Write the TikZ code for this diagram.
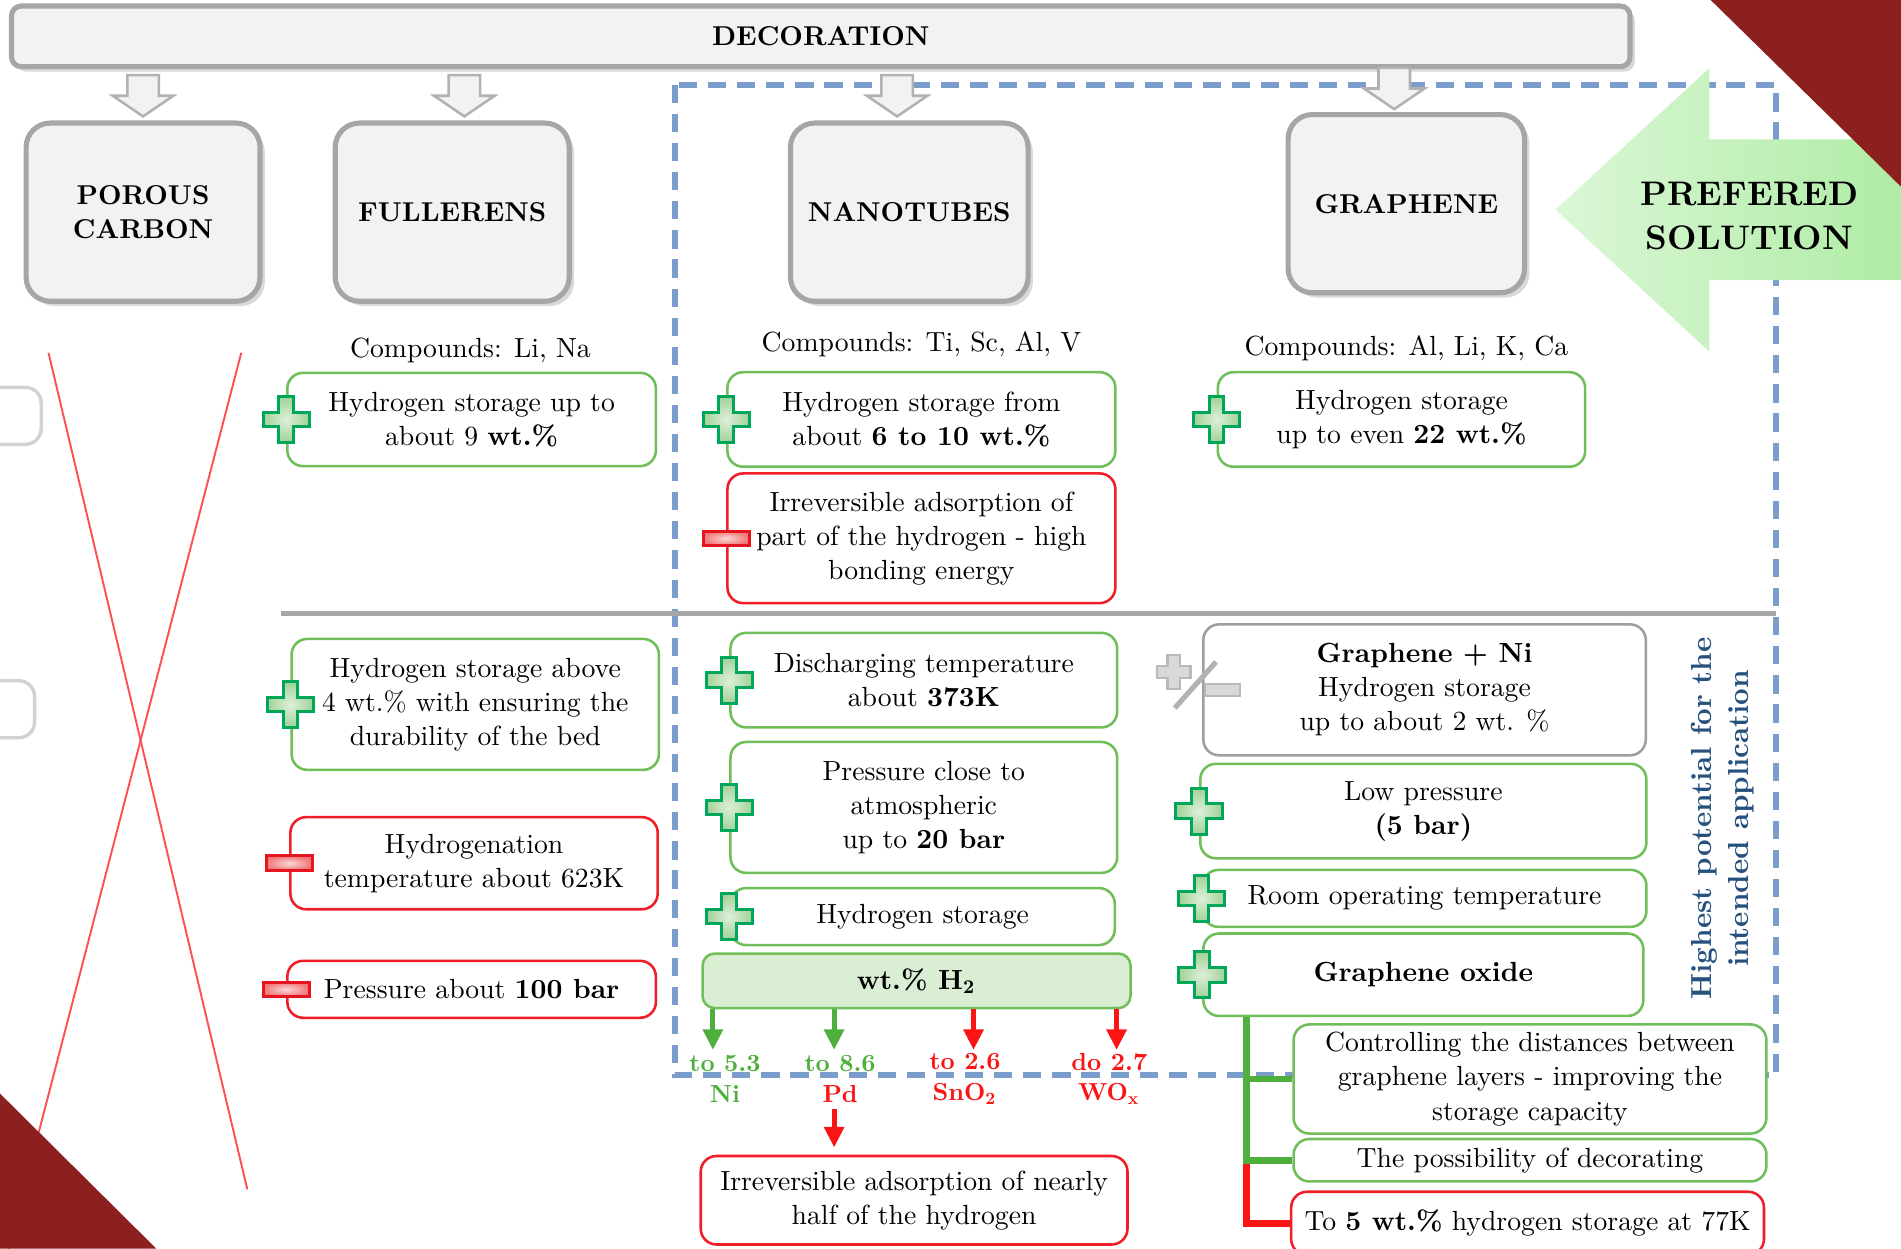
\documentclass[tikz,border=0pt]{standalone}
\usepackage{fontspec}
\setmainfont{lmroman10}[Extension=.otf, UprightFont=*-regular, BoldFont=*-bold,
  ItalicFont=*-italic, BoldItalicFont=*-bolditalic]
\usepackage{tikz}
\usetikzlibrary{arrows.meta,shadows,calc}

\definecolor{boxgreen}{RGB}{112,190,90}
\definecolor{boxred}{RGB}{240,30,40}
\definecolor{catgray}{RGB}{166,166,166}
\definecolor{catfill}{RGB}{242,242,242}
\definecolor{plusline}{RGB}{0,166,90}
\definecolor{plusfill}{RGB}{160,210,150}
\definecolor{minusline}{RGB}{230,20,30}
\definecolor{minusfill}{RGB}{240,120,120}
\definecolor{dashblue}{RGB}{123,157,203}
\definecolor{sideblue}{RGB}{38,80,125}
\definecolor{arrgreen}{RGB}{78,175,60}
\definecolor{arrred}{RGB}{250,20,20}
\definecolor{prefgreen}{RGB}{175,236,165}
\definecolor{cornerred}{RGB}{139,32,30}
\definecolor{wtfill}{RGB}{218,238,212}
\definecolor{xred}{RGB}{255,80,80}

\newcommand{\boxfont}{\fontsize{6.5}{8}\selectfont}
\newcommand{\catfont}{\fontsize{6.4}{8}\selectfont\bfseries}
\newcommand{\labfont}{\fontsize{5.8}{7.1}\selectfont\bfseries}
\newcommand{\sidefont}{\fontsize{6.8}{8.8}\selectfont\bfseries}
\newcommand{\preffont}{\fontsize{8}{10.2}\selectfont\bfseries}

\tikzset{
  catbox/.style={draw=catgray, line width=1.2pt, fill=catfill, rounded corners=2mm,
    drop shadow={shadow xshift=0.4mm, shadow yshift=-0.4mm, opacity=0.3},
    align=center, font=\catfont},
  pro/.style={draw=boxgreen, line width=0.6pt, fill=white, rounded corners=1.3mm,
    align=center, inner sep=0pt, font=\boxfont},
  con/.style={pro, draw=boxred},
  neutral/.style={pro, draw=gray!75},
  ghost/.style={draw=gray!35, line width=0.8pt, fill=white, rounded corners=1.3mm},
  lab/.style={align=center, inner sep=0pt, font=\labfont},
  plusicon/.pic={
    \shadedraw[draw=plusline, line width=0.7pt, inner color=plusfill!35, outer color=plusfill]
      (-6,-19) -- (6,-19) -- (6,-6) -- (19,-6) -- (19,6) -- (6,6) -- (6,19)
      -- (-6,19) -- (-6,6) -- (-19,6) -- (-19,-6) -- (-6,-6) -- cycle;
  },
  minusicon/.pic={
    \shadedraw[draw=minusline, line width=0.7pt, inner color=minusfill!30, outer color=minusfill]
      (-19,-6) rectangle (19,6);
  },
  pmicon/.pic={
    \filldraw[draw=gray!55, fill=gray!30, line width=0.5pt]
      (-22,-29) -- (-12,-29) -- (-12,-20) -- (-3,-20) -- (-3,-10) -- (-12,-10) -- (-12,-1)
      -- (-22,-1) -- (-22,-10) -- (-31,-10) -- (-31,-20) -- (-22,-20) -- cycle;
    \filldraw[draw=gray!55, fill=gray!30, line width=0.5pt] (9,-5) rectangle (38,5);
    \draw[gray!60, line width=1.2pt] (-16,15) -- (18,-23);
  },
  hollowdown/.pic={
    \filldraw[fill=catfill, draw=gray!60, line width=0.6pt]
      (-13,0) -- (13,0) -- (13,17) -- (25,17) -- (0,34) -- (-25,17) -- (-13,17) -- cycle;
  }
}

\begin{document}
\begin{tikzpicture}[x=0.1mm,y=-0.1mm,>={Triangle[length=1.7mm,width=1.6mm]}]
\useasboundingbox (0,0) rectangle (1568,1030);
\clip (0,0) rectangle (1568,1030);

    % frame and separator
    \draw[dashblue, line width=1.4pt, dash pattern=on 1.5mm off 0.9mm] (557,70) rectangle (1465,887);
    \draw[catgray, line width=1.3pt] (232,506) -- (1465,506);

    \node[ghost, minimum width=5.4mm, minimum height=4.7mm] (gh1) at (7,343) {};
    \node[ghost, minimum width=4.9mm, minimum height=4.7mm] (gh2) at (4,585) {};
    \draw[xred, line width=0.45pt] (40,291) -- (204,981);
    \draw[xred, line width=0.45pt] (199,291) -- (7,1030);

    % preferred solution arrow
    \shade[left color=prefgreen!45, right color=prefgreen]
      (1283,173) -- (1410,56) -- (1410,115) -- (1568,115) -- (1568,231) -- (1410,231) -- (1410,290) -- cycle;
    \fill[cornerred] (1411,0) -- (1568,0) -- (1568,154) -- cycle;
    \fill[cornerred] (0,902) -- (0,1030) -- (129,1030) -- cycle;
    \node[align=center, font=\preffont] (pref) at (1443,178) {PREFERED\\SOLUTION};

    \node[catbox, minimum width=133.5mm, minimum height=5mm, rounded corners=0.8mm] (dec) at (677,30) {DECORATION};

    \node[catbox, minimum width=19.3mm, minimum height=14.7mm] (pc) at (118,175) {POROUS\\CARBON};
    \node[catbox, minimum width=19.3mm, minimum height=14.7mm] (fu) at (373,175) {FULLERENS};
    \node[catbox, minimum width=19.6mm, minimum height=14.7mm] (nt) at (750,175) {NANOTUBES};
    \node[catbox, minimum width=19.5mm, minimum height=14.7mm] (gr) at (1160,168) {GRAPHENE};

    \pic at (118,62) {hollowdown};
    \pic at (383,62) {hollowdown};
    \pic at (740,62) {hollowdown};
    \pic at (1150,56) {hollowdown};

    % fullerens
    \node[font=\boxfont] (cf) at (388,289) {Compounds: Li, Na};
    \node[pro, minimum width=30.4mm, minimum height=7.7mm] (fu1) at (389,346) {Hydrogen storage up to\\about 9 \textbf{wt.\%}};
    \node[pro, minimum width=30.3mm, minimum height=10.8mm] (fu2) at (392,581) {Hydrogen storage above\\4 wt.\% with ensuring the\\durability of the bed};
    \node[con, minimum width=30.3mm, minimum height=7.6mm] (fu3) at (391,712) {Hydrogenation\\temperature about 623K};
    \node[con, minimum width=30.4mm, minimum height=4.7mm] (fu4) at (389,816) {Pressure about \textbf{100 bar}};

    \pic at (fu1.west) {plusicon};
    \pic at (fu2.west) {plusicon};
    \pic at (fu3.west) {minusicon};
    \pic at (fu4.west) {minusicon};

    % nanotubes
    \node[font=\boxfont] (cn) at (760,284) {Compounds: Ti, Sc, Al, V};
    \node[pro, minimum width=32mm, minimum height=7.8mm] (nt1) at (760,346) {Hydrogen storage from\\about \textbf{6 to 10 wt.\%}};
    \node[con, minimum width=32mm, minimum height=10.7mm] (nt2) at (760,444) {Irreversible adsorption of\\part of the hydrogen - high\\bonding energy};
    \node[pro, minimum width=31.9mm, minimum height=7.8mm] (nt3) at (762,561) {Discharging temperature\\about \textbf{373K}};
    \node[pro, minimum width=31.9mm, minimum height=10.8mm] (nt4) at (762,666) {Pressure close to\\atmospheric\\up to \textbf{20 bar}};
    \node[pro, minimum width=31.7mm, minimum height=4.7mm] (nt5) at (761,756) {Hydrogen storage};
    \node[pro, fill=wtfill, minimum width=35.3mm, minimum height=4.5mm, rounded corners=1mm] (wt) at (756,809) {\textbf{wt.\% H\textsubscript{2}}};

    \pic at (nt1.west) {plusicon};
    \pic at (nt2.west) {minusicon};
    \pic at (nt3.west) {plusicon};
    \pic at (nt4.west) {plusicon};
    \pic at (nt5.west) {plusicon};

    \foreach \x/\c in {588/arrgreen, 688/arrgreen, 803/arrred, 921/arrred}{
      \coordinate (tip\x) at (\x,866);
      \draw[->, \c, line width=1.2pt] (wt.south -| tip\x) -- (tip\x);
    }

    \node[lab] (ni) at (598,890) {\textcolor{arrgreen}{to 5.3}\\\textcolor{arrgreen}{Ni}};
    \node[lab] (pd) at (693,890) {\textcolor{arrgreen}{to 8.6}\\\textcolor{arrred}{Pd}};
    \node[lab] (sn) at (796,890) {\textcolor{arrred}{to 2.6}\\\textcolor{arrred}{SnO\textsubscript{2}}};
    \node[lab] (wo) at (915,890) {\textcolor{arrred}{do 2.7}\\\textcolor{arrred}{WO\textsubscript{x}}};

    \node[con, minimum width=35.2mm, minimum height=7.3mm] (irr) at (754,990) {Irreversible adsorption of nearly\\half of the hydrogen};
    \coordinate (pdx) at (688,0);
    \draw[->, arrred, line width=1.2pt, shorten <=0.5mm, shorten >=0.6mm] (pd.south -| pdx) -- (irr.north -| pdx);

    % graphene
    \node[font=\boxfont] (cg) at (1160,287) {Compounds: Al, Li, K, Ca};
    \node[pro, minimum width=30.3mm, minimum height=7.8mm] (gr1) at (1156,346) {Hydrogen storage\\up to even \textbf{22 wt.\%}};
    \node[neutral, minimum width=36.5mm, minimum height=10.8mm] (gr2) at (1175,569) {\textbf{Graphene + Ni}\\Hydrogen storage\\up to about 2 wt. \%};
    \node[pro, minimum width=36.8mm, minimum height=7.8mm] (gr3) at (1174,669) {Low pressure\\\textbf{(5 bar)}};
    \node[pro, minimum width=36.6mm, minimum height=4.7mm] (gr4) at (1175,741) {Room operating temperature};
    \node[pro, minimum width=36.3mm, minimum height=6.8mm] (gr5) at (1174,804) {\textbf{Graphene oxide}};
    \node[pro, minimum width=39mm, minimum height=9mm] (gr6) at (1262,890) {Controlling the distances between\\graphene layers - improving the\\storage capacity};
    \node[pro, minimum width=39mm, minimum height=3.5mm] (gr7) at (1262,957) {The possibility of decorating};
    \node[con, minimum width=39mm, minimum height=5.2mm] (gr8) at (1260,1009) {To \textbf{5 wt.\%} hydrogen storage at 77K};

    \pic at (gr1.west) {plusicon};
    \pic at (985,569) {pmicon};
    \pic at (gr3.west) {plusicon};
    \pic at (gr4.west) {plusicon};
    \pic at (gr5.west) {plusicon};

    \coordinate (tr) at ($(gr5.south west)+(37,0)$);
    \draw[arrred, line width=1.6pt] (tr |- gr7.west) |- (gr8.west);
    \draw[arrgreen, line width=1.6pt] (tr) |- (gr6.west);
    \draw[arrgreen, line width=1.6pt] (tr) |- (gr7.west);

    \node[rotate=90, align=center, font=\sidefont, text=sideblue] (side) at (1421,675) {Highest potential for the\\intended application};

\end{tikzpicture}
\end{document}
